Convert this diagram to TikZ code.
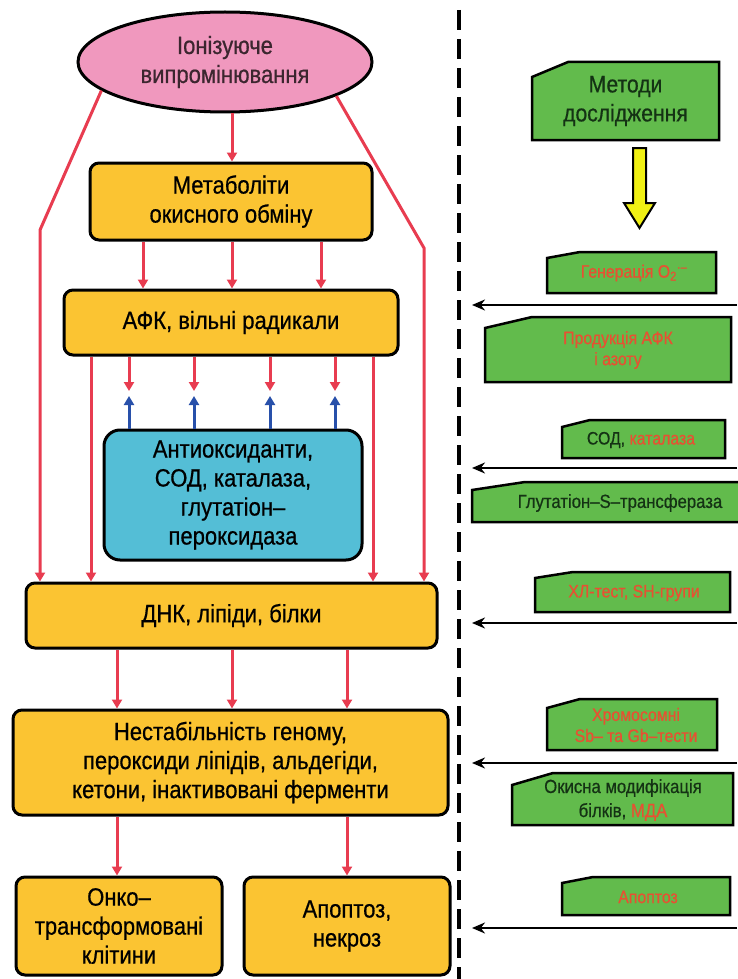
\documentclass[tikz,border=0pt]{standalone}
\usepackage{fontspec}
\setmainfont{Liberation Sans}[FakeStretch=0.88, FakeBold=0.6]
\usetikzlibrary{shapes.geometric,arrows.meta}
\definecolor{pinkc}{RGB}{240,152,190}
\definecolor{yelc}{RGB}{251,196,50}
\definecolor{cyanc}{RGB}{84,190,214}
\definecolor{greenc}{RGB}{98,187,76}
\definecolor{redc}{RGB}{232,60,80}
\definecolor{bluec}{RGB}{40,80,170}
\definecolor{redt}{RGB}{232,80,50}
\definecolor{dkgreen}{RGB}{20,50,20}
\definecolor{arrowy}{RGB}{240,240,20}
\begin{document}
\begin{tikzpicture}[x=1pt,y=-1pt,
  bigfont/.style={font=\fontsize{25}{29}\selectfont},
  ybox/.style={draw=black, line width=3pt, fill=yelc, rounded corners=9pt, align=center, bigfont, inner sep=0pt},
  ell/.style={ellipse, draw=black, line width=3pt, fill=pinkc, align=center, bigfont, inner sep=0pt, text=black!75!pinkc},
  bbox/.style={ybox, fill=cyanc, rounded corners=16pt},
  rarr/.style={draw=redc, line width=3pt, -{Triangle[width=10pt,length=9pt]}},
  barr/.style={draw=bluec, line width=3pt, -{Triangle[width=10pt,length=9pt]}},
  karr/.style={draw=black, line width=2.5pt, -{Stealth[width=11pt,length=13pt]}},
  mbox/.style={draw=black, line width=2.5pt, fill=greenc, line join=miter},
  mtext/.style={align=center, text=dkgreen, font=\fontsize{19}{22}\selectfont, inner sep=0pt},
  rt/.style={text=redt, font=\fontsize{18}{21}\selectfont}
]
\useasboundingbox (0,0) rectangle (737,979);
\fill[white] (0,0) rectangle (737,979);

% left column nodes
\node[ell, minimum width=294pt, minimum height=100pt] (ion) at (225,62) {Іонізуюче\\випромінювання};
\node[ybox, minimum width=282pt, minimum height=77pt] (met) at (231,201.5) {Метаболіти\\окисного обміну};
\node[ybox, minimum width=334pt, minimum height=65pt] (afk) at (231,322.5) {АФК, вільні радикали};
\node[bbox, minimum width=258pt, minimum height=130pt] (anti) at (233,495) {Антиоксиданти,\\СОД, каталаза,\\глутатіон–\\пероксидаза};
\node[ybox, minimum width=411pt, minimum height=65pt] (dnk) at (231.5,615.5) {ДНК, ліпіди, білки};
\node[ybox, minimum width=435pt, minimum height=105pt] (nes) at (230.5,762.5) {Нестабільність геному,\\пероксиди ліпідів, альдегіди,\\кетони, інактивовані ферменти};
\node[ybox, minimum width=206pt, minimum height=98pt] (onko) at (119,926) {Онко–\\трансформовані\\клітини};
\node[ybox, minimum width=206pt, minimum height=98pt] (apo) at (347,926) {Апоптоз,\\некроз};

% connectors
\draw[rarr] (232,0 |- ion.south) -- (232,0 |- met.north);
\foreach \x in {143,232,321} \draw[rarr] (\x,0 |- met.south) -- (\x,0 |- afk.north);
\coordinate (lbend) at (40,230);
\coordinate (rbend) at (424,248);
\draw[rarr] (ion.193) -- (lbend) -- (lbend |- dnk.north);
\draw[rarr] (ion.343) -- (rbend) -- (rbend |- dnk.north);
\draw[rarr] (91,0 |- afk.south) -- (91,0 |- dnk.north);
\draw[rarr] (373,0 |- afk.south) -- (373,0 |- dnk.north);
\foreach \x in {129,194,270,335} {
  \coordinate (rt\x) at (\x,391);
  \coordinate (bt\x) at (\x,396);
  \draw[rarr] (\x,0 |- afk.south) -- (rt\x);
  \draw[barr] (\x,0 |- anti.north) -- (bt\x);
}
\foreach \x in {117,232,347} \draw[rarr] (\x,0 |- dnk.south) -- (\x,0 |- nes.north);
\draw[rarr] (117,0 |- nes.south) -- (117,0 |- onko.north);
\draw[rarr] (347,0 |- nes.south) -- (347,0 |- apo.north);

% dashed divider
\coordinate (dtop) at (459,10);
\coordinate (dbot) at (459,979);
\draw[line width=4pt, dash pattern=on 20pt off 9pt] (dtop) -- (dbot);

% right column
\filldraw[mbox] (532,140) -- (719,140) -- (719,62) -- (568,62) -- (532,77) -- cycle;
\node[mtext, font=\fontsize{24}{29}\selectfont] (meth) at (625.5,101) {Методи\\дослідження};
\filldraw[draw=black, line width=2pt, fill=arrowy, line join=miter]
  (633,148) -- (646,148) -- (646,203) -- (655,203) -- (639.5,228) -- (624,203) -- (633,203) -- cycle;

\filldraw[mbox] (547,293) -- (716,293) -- (716,252) -- (580,252) -- (547,258) -- cycle;
\node[mtext, rt] (m1) at (634,273) {Генерація O\textsubscript{2}\textsuperscript{·–}};

\filldraw[mbox] (485,382) -- (731,382) -- (731,317) -- (532,317) -- (485,328) -- cycle;
\node[mtext, rt] (m2) at (618,350) {Продукція АФК\\і азоту};

\filldraw[mbox] (562,458) -- (725,458) -- (725,420) -- (590,420) -- (562,427) -- cycle;
\node[mtext, font=\fontsize{18}{21}\selectfont] (m3) at (641,440) {СОД, \textcolor{redt}{каталаза}};

\filldraw[mbox] (472,522) -- (740,522) -- (740,482) -- (525,482) -- (472,490) -- cycle;
\node[mtext] (m4) at (620,503) {Глутатіон–S–трансфераза};

\filldraw[mbox] (535,612) -- (730,612) -- (730,572) -- (573,572) -- (535,578) -- cycle;
\node[mtext, rt] (m5) at (634,593) {ХЛ-тест, SH-групи};

\filldraw[mbox] (547,750) -- (717,750) -- (717,699) -- (580,699) -- (547,708) -- cycle;
\node[mtext, rt] (m6) at (636,725) {Хромосомні\\Sb– та Gb–тести};

\filldraw[mbox] (512,825) -- (733,825) -- (733,773) -- (553,773) -- (512,785) -- cycle;
\node[mtext, font=\fontsize{19}{24}\selectfont] (m7) at (623,800) {Окисна модифікація\\білків, \textcolor{redt}{МДА}};

\filldraw[mbox] (562,915) -- (730,915) -- (730,877) -- (593,877) -- (562,883) -- cycle;
\node[mtext, rt] (m8) at (648,897) {Апоптоз};

% method arrows
\foreach \y/\n in {305/a,468/b,623/c,763/d,928/e} {
  \coordinate (s\n) at (737,\y);
  \coordinate (e\n) at (472,\y);
  \draw[karr] (s\n) -- (e\n);
}
\end{tikzpicture}
\end{document}
